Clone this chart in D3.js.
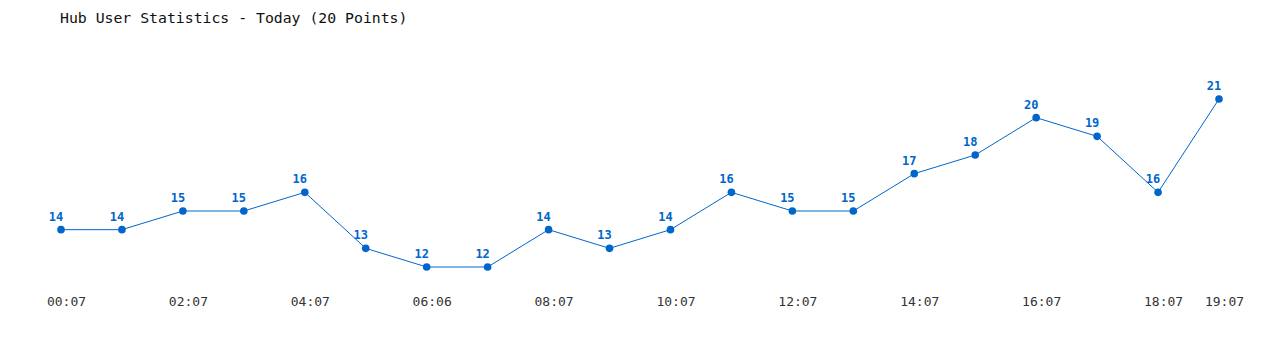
<!DOCTYPE html>
<html>
    <head>
        <meta charset="UTF-8">
        <script src="https://cdn.jsdelivr.net/npm/d3@7"></script>
        <title>Hub User Statistics</title>
        <style>
            body { margin: 0; background: #fff; }
        </style>
    </head>
    <body>
        <div id="ChartContainer"></div>
    </body>
    <script>
        const title = "Hub User Statistics - Today (20 Points)"
        const times = ["00:07", "01:07", "02:07", "03:07", "04:07", "05:07", "06:06", "07:07", "08:07", "09:07",
                       "10:07", "11:07", "12:07", "13:07", "14:07", "15:07", "16:07", "17:07", "18:07", "19:07"]
        const users = [14, 14, 15, 15, 16, 13, 12, 12, 14, 13, 14, 16, 15, 15, 17, 18, 20, 19, 16, 21]
        // which x labels are shown (every other one, plus the last)
        const shown_ticks = ["00:07", "02:07", "04:07", "06:06", "08:07", "10:07", "12:07", "14:07", "16:07", "18:07", "19:07"]

        const width = 1280
        const height = 350
        const blue = "#0066cc"
        const mono = "'DejaVu Sans Mono', 'Liberation Mono', monospace"

        const svg = d3.select("#ChartContainer")
            .append("svg")
            .attr("width", width)
            .attr("height", height)

        svg.append("text")
            .attr("x", 60)
            .attr("y", 23)
            .attr("font-family", mono)
            .attr("font-size", "14.8px")
            .attr("fill", "#111")
            .text(title)

        const x = d3.scalePoint()
            .domain(times)
            .range([61, 1219])

        const y = d3.scaleLinear()
            .domain(d3.extent(users))
            .range([267, 99])

        const points = times.map((t, i) => [t, users[i]])

        const x_axis = d3.axisBottom(x)
            .tickValues(shown_ticks)
            .tickSize(0)
            .tickPadding(0)

        const axis_g = svg.append("g")
            .attr("transform", "translate(5,297)")
            .call(x_axis)
        axis_g.select(".domain").remove()
        axis_g.selectAll("text")
            .attr("font-family", mono)
            .attr("font-size", "13px")
            .attr("fill", "#333")
            .attr("dy", "0.71em")

        const line = d3.line()
            .x(d => x(d[0]))
            .y(d => y(d[1]))

        svg.append("path")
            .datum(points)
            .attr("d", line)
            .attr("fill", "none")
            .attr("stroke", blue)
            .attr("stroke-width", 1)

        svg.selectAll("circle.pt")
            .data(points)
            .enter()
            .append("circle")
            .attr("class", "pt")
            .attr("cx", d => x(d[0]))
            .attr("cy", d => y(d[1]))
            .attr("r", 3.8)
            .attr("fill", blue)

        svg.selectAll("text.val")
            .data(points)
            .enter()
            .append("text")
            .attr("class", "val")
            .attr("x", d => x(d[0]) - 5)
            .attr("y", d => y(d[1]) - 9)
            .attr("text-anchor", "middle")
            .attr("font-family", mono)
            .attr("font-weight", "bold")
            .attr("font-size", "12px")
            .attr("fill", blue)
            .text(d => d[1])
    </script>
</html>
